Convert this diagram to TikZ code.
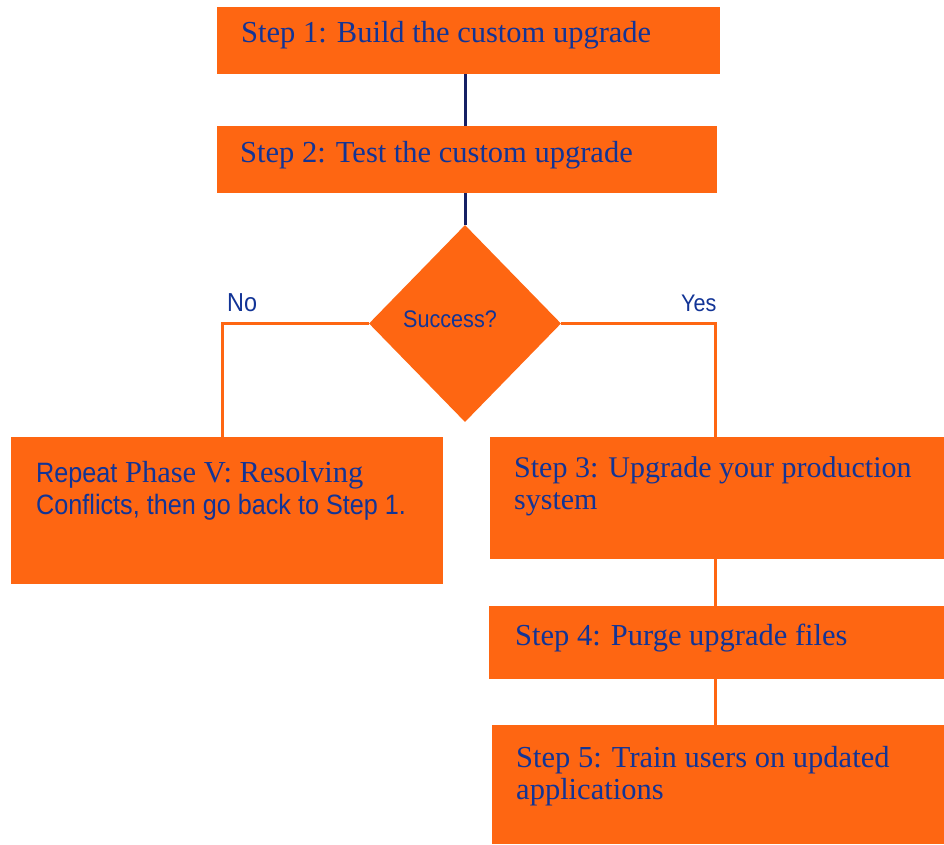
\documentclass[tikz,border=0pt]{standalone}
\usepackage{fontspec}
\setmainfont{Liberation Serif}
\newfontfamily\futura[FakeStretch=0.9]{Liberation Sans}
\usetikzlibrary{shapes.geometric}
\definecolor{boxorange}{RGB}{254,102,18}
\definecolor{txtblue}{RGB}{18,52,150}
\definecolor{linenavy}{RGB}{22,32,100}
\tikzset{
  box/.style={fill=boxorange, draw=none, anchor=north west, inner sep=0pt},
  txt/.style={anchor=base west, inner sep=0pt, text=txtblue, font=\fontsize{30.5}{32}\selectfont, align=left},
  stxt/.style={anchor=base west, inner sep=0pt, text=txtblue, font=\futura\fontsize{24}{32}\selectfont, align=left},
  btxt/.style={anchor=base west, inner sep=0pt, text=txtblue, font=\futura\fontsize{28}{32}\selectfont, align=left},
  navyline/.style={draw=linenavy, line width=3pt},
  orangeline/.style={draw=boxorange, line width=3pt},
}
\begin{document}
\begin{tikzpicture}[x=1pt,y=-1pt]
\useasboundingbox (0,0) rectangle (944,844);
% boxes
\node[box, minimum width=503pt, minimum height=67pt] (b1) at (217,7) {};
\node[box, minimum width=500pt, minimum height=67pt] (b2) at (217,126) {};
\node[diamond, fill=boxorange, inner sep=0pt, minimum width=192pt, minimum height=197pt] (d) at (465,323.5) {};
\node[box, minimum width=432pt, minimum height=147pt] (bn) at (11,437) {};
\node[box, minimum width=454pt, minimum height=122pt] (b3) at (490,437) {};
\node[box, minimum width=455pt, minimum height=73pt] (b4) at (489,606) {};
\node[box, minimum width=452pt, minimum height=119pt] (b5) at (492,725) {};
% connectors
\coordinate (cx) at (465.5,0);
\draw[navyline] (b1.south -| cx) -- (b2.north -| cx);
\draw[navyline] (b2.south -| cx) -- (d.north -| cx);
\coordinate (lx) at (222,0);
\coordinate (rx) at (715,0);
\draw[orangeline] (d.west) -| (bn.north -| lx);
\draw[orangeline] (d.east) -| (b3.north -| rx);
\draw[orangeline] (b3.south -| rx) -- (b4.north -| rx);
\draw[orangeline] (b4.south -| rx) -- (b5.north -| rx);
% texts
\node[txt] (t1) at (241,42) {Step 1: Build the custom upgrade};
\node[txt] (t2) at (240,162) {Step 2: Test the custom upgrade};
\node[stxt] (ts) at (403,327) {Success?};
\node[stxt, font=\futura\fontsize{26}{32}\selectfont] (tno) at (227,311) {No};
\node[stxt] (tyes) at (681,311) {Yes};
\node[txt] (tn1) at (36,482) {{\futura\fontsize{28}{32}\selectfont Repeat} Phase V: Resolving};
\node[btxt] (tn2) at (36,514) {Conflicts, then go back to Step 1.};
\node[txt, font=\fontsize{30}{32}\selectfont] (t3) at (514,509) {Step 3: Upgrade your production\\system};
\node[txt] (t4) at (515,645) {Step 4: Purge upgrade files};
\node[txt] (t5) at (516,799) {Step 5: Train users on updated\\applications};
\end{tikzpicture}
\end{document}
